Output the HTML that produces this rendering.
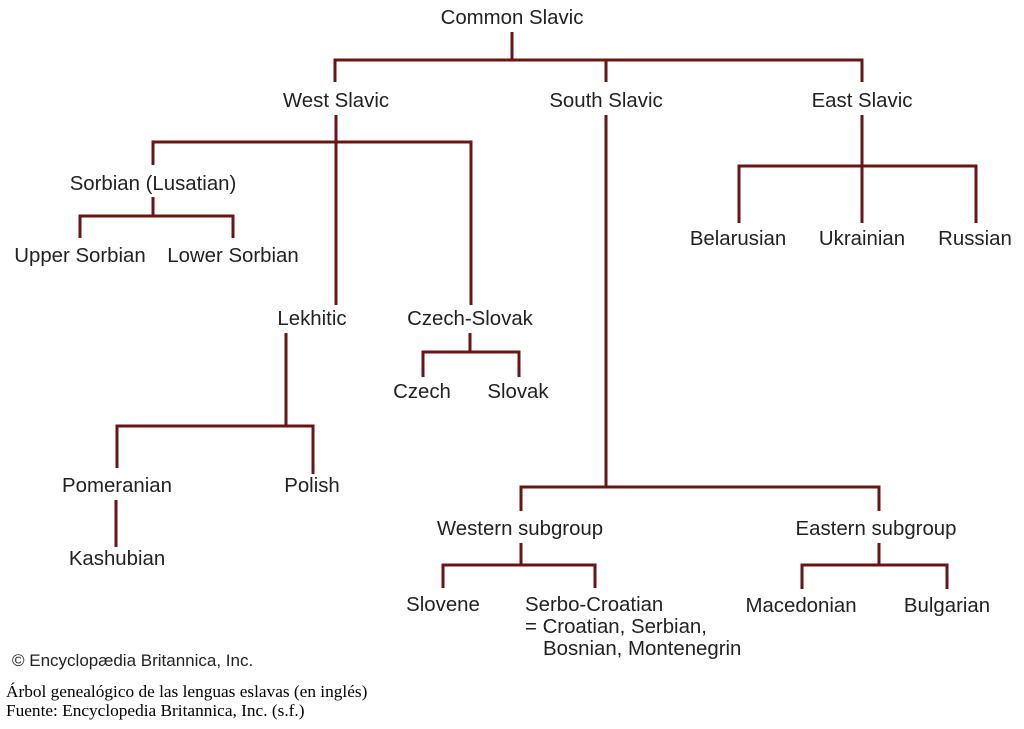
<!DOCTYPE html>
<html><head><meta charset="utf-8"><style>
body{margin:0;background:#fff;width:1024px;height:724px;overflow:hidden}
svg text{font-family:"Liberation Sans",sans-serif;font-size:20.4px;fill:#222}
</style></head><body>
<svg width="1024" height="724" viewBox="0 0 1024 724">
<g stroke="#6b1414" stroke-width="3" fill="none">
<path d="M512 32V60M335 82V60H862V82M606 60V82"/>
<path d="M336 115V305M153 165V142H471V305"/>
<path d="M153 197V216M80 238V216H233V238"/>
<path d="M286 333V426M117 468V426H313V474"/>
<path d="M116 500V547"/>
<path d="M470 333V352M423 377V352H519V377"/>
<path d="M606 115V487M521 511V487H879V511"/>
<path d="M521 543V565M443 588V565H595V588"/>
<path d="M879 543V565M802 589V565H947V589"/>
<path d="M862 115V223M739 223V166H976V223"/>
</g>
<g text-anchor="middle">
<text x="512" y="24">Common Slavic</text>
<text x="336" y="107">West Slavic</text>
<text x="606" y="107">South Slavic</text>
<text x="862" y="107">East Slavic</text>
<text x="153" y="190">Sorbian (Lusatian)</text>
<text x="80" y="262">Upper Sorbian</text>
<text x="233" y="262">Lower Sorbian</text>
<text x="738" y="245">Belarusian</text>
<text x="862" y="245">Ukrainian</text>
<text x="975" y="245">Russian</text>
<text x="312" y="325">Lekhitic</text>
<text x="470" y="325">Czech-Slovak</text>
<text x="422" y="398">Czech</text>
<text x="518" y="398">Slovak</text>
<text x="117" y="492">Pomeranian</text>
<text x="312" y="492">Polish</text>
<text x="117" y="565">Kashubian</text>
<text x="520" y="535">Western subgroup</text>
<text x="876" y="535">Eastern subgroup</text>
<text x="443" y="611">Slovene</text>
<text x="801" y="612">Macedonian</text>
<text x="947" y="612">Bulgarian</text>
</g>
<text x="525" y="611">Serbo-Croatian</text>
<text x="525" y="633">= Croatian, Serbian,</text>
<text x="543" y="655">Bosnian, Montenegrin</text>
<text x="12" y="666" style="font-size:17px">© Encyclopædia Britannica, Inc.</text>
<text x="6" y="697" style="font-family:'Liberation Serif',serif;font-size:17.3px;fill:#000">Árbol genealógico de las lenguas eslavas (en inglés)</text>
<text x="6" y="716" style="font-family:'Liberation Serif',serif;font-size:17.3px;fill:#000">Fuente: Encyclopedia Britannica, Inc. (s.f.)</text>
</svg>
</body></html>
